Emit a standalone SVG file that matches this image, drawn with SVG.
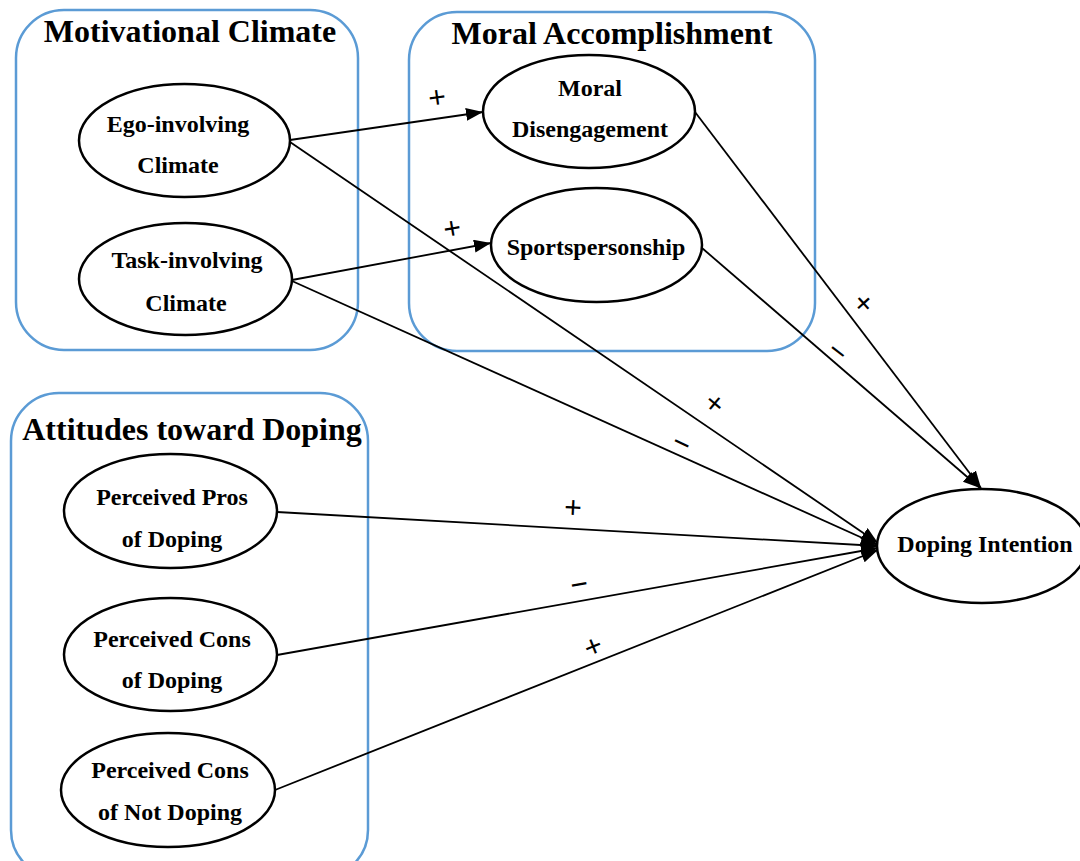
<svg xmlns="http://www.w3.org/2000/svg" width="1080" height="861" viewBox="0 0 1080 861">
<style>
.grp{fill:none;stroke:#5b9bd5;stroke-width:2.5}
.node{fill:#fff;stroke:#000;stroke-width:2.5}
.title{font-family:"Liberation Serif","Times New Roman",serif;font-weight:bold;font-size:32px;text-anchor:middle;fill:#000}
.lbl{font-family:"Liberation Serif","Times New Roman",serif;font-weight:bold;font-size:24px;text-anchor:middle;fill:#000}
.sign{font-family:"Liberation Sans",Arial,sans-serif;font-size:30px;text-anchor:middle;fill:#000}
.edge{fill:none;stroke:#000;stroke-width:1.8}
</style>
<defs>
<marker id="arr" markerUnits="userSpaceOnUse" markerWidth="18" markerHeight="14" refX="17" refY="6.5" orient="auto">
<path d="M0,0 L17,6.5 L0,13 z" fill="#000"/>
</marker>
</defs>
<rect width="1080" height="861" fill="#fff"/>
<g id="group-motivational">
<rect class="grp" x="16" y="10" width="342" height="340" rx="48" ry="48"/>
<text class="title" x="190" y="42">Motivational Climate</text>
</g>
<g id="group-moral">
<rect class="grp" x="409" y="12" width="406" height="339" rx="48" ry="48"/>
<text class="title" x="612" y="44">Moral Accomplishment</text>
</g>
<g id="group-attitudes">
<rect class="grp" x="11" y="393" width="357" height="485" rx="48" ry="48"/>
<text class="title" x="192" y="440">Attitudes toward Doping</text>
</g>
<g id="connectors">
<line class="edge" x1="290" y1="140" x2="483" y2="112" marker-end="url(#arr)"/>
<line class="edge" x1="292" y1="280" x2="491" y2="243" marker-end="url(#arr)"/>
<line class="edge" x1="290" y1="142" x2="878" y2="543" marker-end="url(#arr)"/>
<line class="edge" x1="292" y1="281" x2="878" y2="545" marker-end="url(#arr)"/>
<line class="edge" x1="695" y1="112" x2="981" y2="488" marker-end="url(#arr)"/>
<line class="edge" x1="702" y1="248" x2="980" y2="488" marker-end="url(#arr)"/>
<line class="edge" x1="277" y1="512" x2="878" y2="546" marker-end="url(#arr)"/>
<line class="edge" x1="277" y1="655" x2="878" y2="548" marker-end="url(#arr)"/>
<line class="edge" x1="275" y1="790" x2="878" y2="550" marker-end="url(#arr)"/>
<text class="sign" transform="translate(437,97) rotate(-8)" dy="0.35em">+</text>
<text class="sign" transform="translate(452,228) rotate(-10)" dy="0.35em">+</text>
<text class="sign" transform="translate(864,303) rotate(48)" dy="0.35em">+</text>
<text class="sign" transform="translate(838,351) rotate(38)" dy="0.35em">−</text>
<text class="sign" transform="translate(715,403) rotate(40)" dy="0.35em">+</text>
<text class="sign" transform="translate(682,443) rotate(25)" dy="0.35em">−</text>
<text class="sign" transform="translate(573,507) rotate(3)" dy="0.35em">+</text>
<text class="sign" transform="translate(579,584) rotate(-10)" dy="0.35em">−</text>
<text class="sign" transform="translate(593,646) rotate(-22)" dy="0.35em">+</text>
</g>
<g id="node-ego">
<ellipse class="node" cx="184.5" cy="140.5" rx="105.5" ry="56.5"/>
<text class="lbl" x="178" y="132">Ego-involving</text>
<text class="lbl" x="178" y="173">Climate</text>
</g>
<g id="node-task">
<ellipse class="node" cx="185.5" cy="279" rx="106.5" ry="56"/>
<text class="lbl" x="187" y="268">Task-involving</text>
<text class="lbl" x="186" y="311">Climate</text>
</g>
<g id="node-moral-disengagement">
<ellipse class="node" cx="589" cy="111.5" rx="106" ry="56.5"/>
<text class="lbl" x="590" y="96">Moral</text>
<text class="lbl" x="590" y="137">Disengagement</text>
</g>
<g id="node-sportspersonship">
<ellipse class="node" cx="596.5" cy="245" rx="105.5" ry="57"/>
<text class="lbl" x="596" y="255">Sportspersonship</text>
</g>
<g id="node-doping-intention">
<ellipse class="node" cx="982" cy="546" rx="105" ry="57"/>
<text class="lbl" x="985" y="552">Doping Intention</text>
</g>
<g id="node-pros">
<ellipse class="node" cx="170.5" cy="511" rx="106.5" ry="57"/>
<text class="lbl" x="172" y="505">Perceived Pros</text>
<text class="lbl" x="172" y="547">of Doping</text>
</g>
<g id="node-cons">
<ellipse class="node" cx="170.5" cy="654.5" rx="106.5" ry="56.5"/>
<text class="lbl" x="172" y="647">Perceived Cons</text>
<text class="lbl" x="172" y="688">of Doping</text>
</g>
<g id="node-cons-not">
<ellipse class="node" cx="168" cy="790" rx="107" ry="57"/>
<text class="lbl" x="170" y="778">Perceived Cons</text>
<text class="lbl" x="170" y="820">of Not Doping</text>
</g>
</svg>
